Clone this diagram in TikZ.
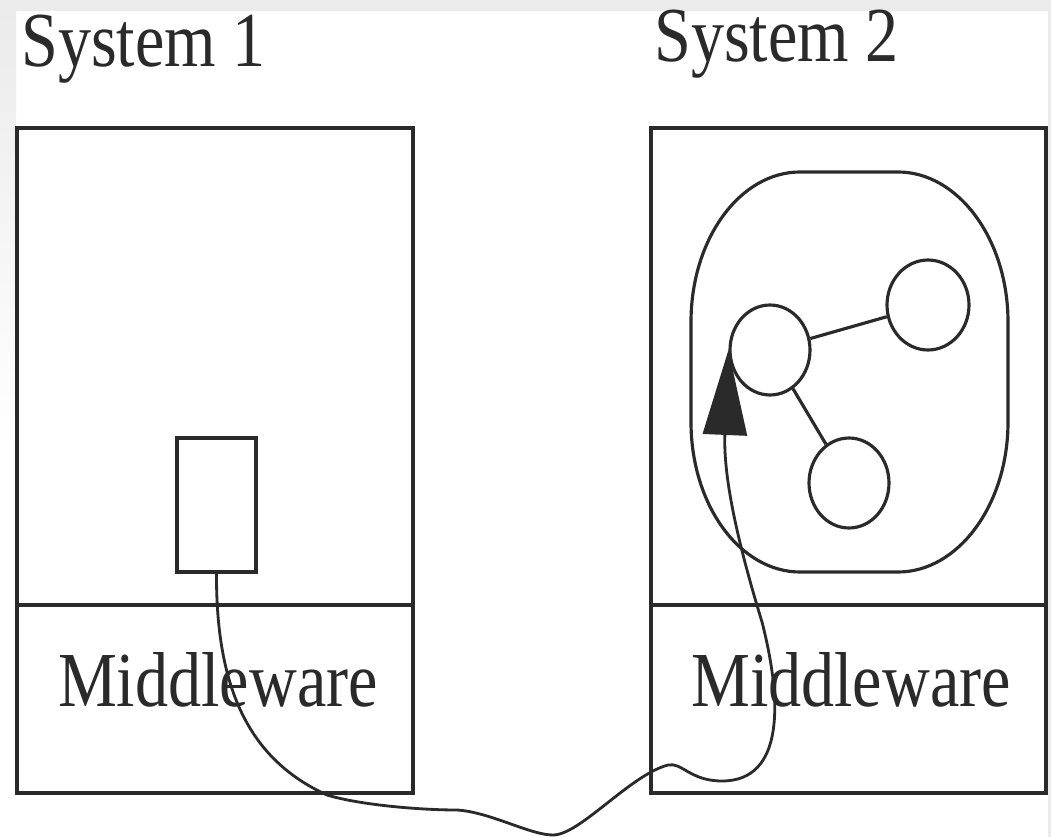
\documentclass[tikz,border=0pt]{standalone}
\usepackage{fontspec}
\setmainfont{Liberation Serif}
\usetikzlibrary{arrows.meta,shapes.geometric}
\definecolor{ink}{RGB}{42,42,42}
\definecolor{bandgray}{RGB}{235,235,235}
\tikzset{
  sysbox/.style={draw=ink, line width=2pt, inner sep=0pt},
  obj/.style={ellipse, draw=ink, line width=1.8pt, inner sep=0pt, minimum width=1.6cm, minimum height=1.8cm},
  bigtext/.style={text=ink, inner sep=0pt, xscale=0.85, font=\fontsize{44.3}{50}\selectfont},
  wire/.style={draw=ink, line width=1.6pt},
}

\begin{document}
\begin{tikzpicture}[x=0.02cm, y=-0.02cm]
	%%%%% START %%%%%
	\useasboundingbox (0,0) rectangle (1051,837);
	\fill[white] (0,0) rectangle (1051,837);
	\fill[bandgray] (0,0) rectangle (1051,11);
	\fill[bandgray] (1048,0) rectangle (1051,837);
	\shade[top color=bandgray, bottom color=white] (0,11) rectangle (16,450);
	
	\node[sysbox, minimum width=7.92cm, minimum height=13.3cm] (sys1) at (215,460.5) {};
	\node[sysbox, minimum width=7.92cm, minimum height=3.76cm] (mw1) at (215,699) {};
	\node[sysbox, minimum width=7.9cm, minimum height=13.3cm] (sys2) at (848.5,460.5) {};
	\node[sysbox, minimum width=7.9cm, minimum height=3.76cm] (mw2) at (848.5,699) {};
	
	\node[bigtext, anchor=base west] (title1) at (21,67) {System 1};
	\node[bigtext, anchor=base west] (title2) at (654,62) {System 2};
	\node[bigtext, anchor=base] (mwtext1) at (218,706) {Middleware};
	\node[bigtext, anchor=base] (mwtext2) at (851,706) {Middleware};
	
	% client object
	\node[sysbox, minimum width=1.58cm, minimum height=2.68cm] (comp) at (216.5,505) {};
	
	% object group on system 2
	\draw[ink, line width=1.8pt] (691,322) .. controls (691,239) and (740,172) .. (800,172) -- (898,172)
		.. controls (958,172) and (1008,239) .. (1008,322) -- (1008,422)
		.. controls (1008,505) and (958,572) .. (898,572) -- (800,572)
		.. controls (740,572) and (691,505) .. (691,422) -- cycle;
	\node[obj] (obj1) at (770,350) {};
	\node[obj, minimum width=1.64cm] (obj2) at (928,305) {};
	\node[obj] (obj3) at (849,483) {};
	\draw[ink, line width=1.8pt] (obj1) -- (obj2);
	\draw[ink, line width=1.8pt] (obj1) -- (obj3);
	
	% remote call
	\draw[wire, -{Triangle[length=1.7cm,width=0.88cm]}] (comp.south)
		.. controls (216,690) and (250,760) .. (327,795)
		.. controls (360,805) and (420,810) .. (457,810)
		.. controls (490,812) and (530,835) .. (553,835)
		.. controls (580,835) and (630,775) .. (668,765)
		.. controls (682,762) and (690,781) .. (722,781)
		.. controls (785,781) and (782,700) .. (762,622)
		.. controls (740,550) and (723,480) .. (obj1.west);
	%%%%% END %%%%%
\end{tikzpicture}
\end{document}
